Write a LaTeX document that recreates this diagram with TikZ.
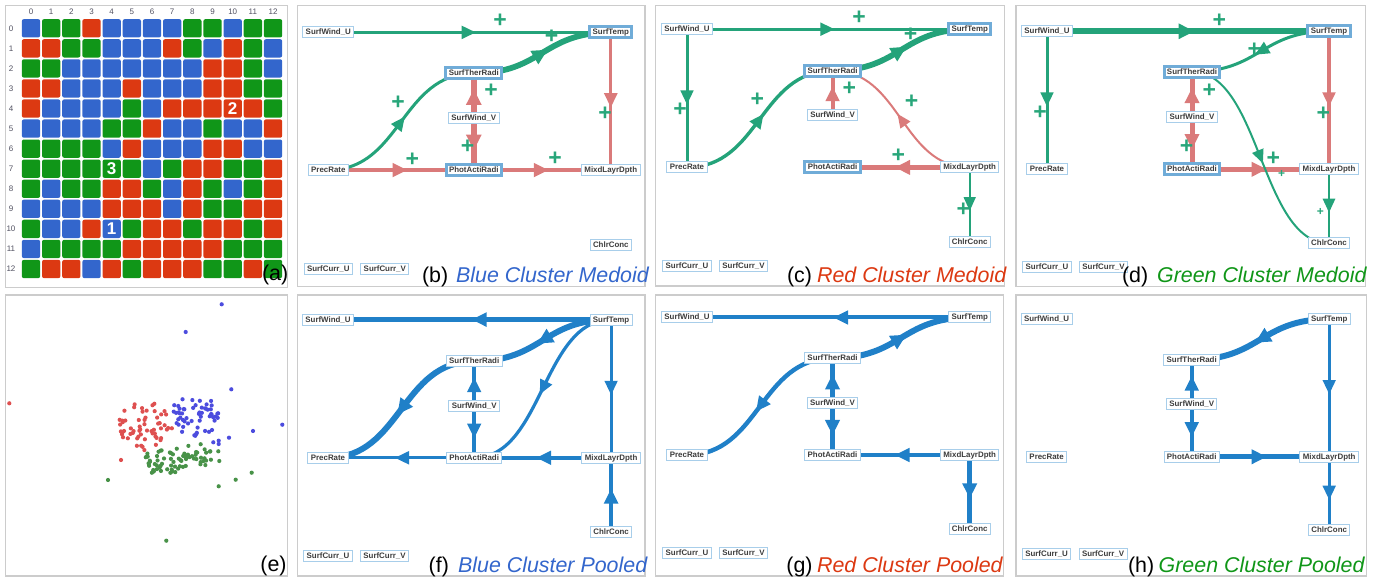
\documentclass[tikz,border=0pt]{standalone}
\usepackage{fontspec}
\setmainfont{Liberation Sans}
\usetikzlibrary{arrows.meta,decorations.markings,calc}

% palette
\definecolor{cB}{HTML}{3366CC}
\definecolor{cG}{HTML}{109618}
\definecolor{cR}{HTML}{DC3912}
\definecolor{egreen}{RGB}{36,163,122}
\definecolor{ered}{RGB}{218,122,122}
\definecolor{eblue}{RGB}{32,128,200}
\definecolor{pgreen}{RGB}{40,166,122}
\definecolor{nodeline}{RGB}{168,206,234}
\definecolor{nodehl}{RGB}{112,172,216}
\definecolor{nodetext}{RGB}{60,60,60}
\definecolor{framegray}{RGB}{204,204,204}
\definecolor{sred}{RGB}{222,80,80}
\definecolor{sblue}{RGB}{76,76,222}
\definecolor{sgreen}{RGB}{72,146,72}
\definecolor{lblgray}{RGB}{80,80,96}

\pgfdeclarelayer{edges}
\pgfsetlayers{edges,main}

\tikzset{
  vbox/.style={draw=nodeline, line width=0.5pt, fill=white, text=nodetext,
    font=\fontsize{3.95pt}{4.5pt}\selectfont\bfseries, inner xsep=1.45pt, inner ysep=0pt,
    minimum height=5.5pt, text height=2.85pt, text depth=0.4pt},
  hinode/.style={draw=nodehl, line width=1.5pt},
  keynode/.style={vbox},
  gedge/.style={draw=egreen},
  redge/.style={draw=ered},
  bedge/.style={draw=eblue},
  midarr/.style={postaction={decorate},decoration={markings,
      mark=at position #1 with {\pgftransformxshift{3.2pt}\arrow{Triangle[length=6.4pt 0.5,width=5.2pt 0.7]}}}},
  midarr/.default=0.5,
  sgn/.style={text=pgreen, font=\fontsize{11.5pt}{11.5pt}\selectfont\bfseries, inner sep=0pt},
  smallsgn/.style={sgn, font=\fontsize{6pt}{6pt}\selectfont\bfseries},
  panelframe/.style={draw=framegray, line width=0.65pt},
  subtag/.style={anchor=base west, inner sep=0pt, font=\fontsize{10.7pt}{12pt}\selectfont},
  ttl/.style={subtag, font=\fontsize{10.7pt}{12pt}\selectfont\itshape},
  gridlbl/.style={inner sep=0pt, text=lblgray, font=\fontsize{4pt}{4pt}\selectfont},
  cellnum/.style={inner sep=0pt, text=white, font=\fontsize{8.5pt}{8.5pt}\selectfont\bfseries},
}

% the ten variables of one network; #1 prefix, #2-#4 column x, #5-#9 row y
\newcommand\netnodes[9]{%
  \node[keynode] (#1ST)  at (#4,#5) {SurfTemp};
  \node[vbox]    (#1SWU) at (#2,#5) {SurfWind\_U};
  \node[keynode] (#1STR) at (#3,#6) {SurfTherRadi};
  \node[vbox]    (#1SWV) at (#3,#7) {SurfWind\_V};
  \node[vbox]    (#1PR)  at (#2,#8) {PrecRate};
  \node[keynode] (#1PAR) at (#3,#8) {PhotActiRadi};
  \node[vbox]    (#1MLD) at (#4,#8) {MixdLayrDpth};
  \node[vbox]    (#1CC)  at (#4,#9) {ChlrConc};
  \node[vbox]    (#1SCU) at (#2,#9+24) {SurfCurr\_U};
  \node[vbox]    (#1SCV) at (#2+56.5,#9+24) {SurfCurr\_V};
}

% S-shaped link with horizontal tangents at both ends
\newcommand\scurve[3][]{%
  \path ($(#2.center)!0.5!(#3.center)$) coordinate (scm);
  \draw[#1] (#2.center) .. controls (scm |- #2.center) and (scm |- #3.center) .. (#3.center);
}

\begin{document}
\begin{tikzpicture}[x=0.5pt,y=-0.5pt]
\useasboundingbox (0,0) rectangle (1383,581);

% ---------------- (a) cluster map ----------------
\draw[panelframe] (5.7,5.7) rectangle (287.3,287.3);
\foreach \j in {0,...,12}{
  \node[gridlbl] (cl\j) at ({31+20.17*\j},11.7) {\j};
}
\foreach \row [count=\i from 0] in {
  {B,G,G,R,B,B,B,B,G,G,B,G,G},
  {R,R,G,G,B,B,B,R,G,B,R,G,B},
  {G,G,B,B,B,B,B,B,B,R,R,G,B},
  {R,R,B,B,B,R,B,B,B,R,R,G,G},
  {R,B,B,B,B,G,B,R,R,R,R,R,G},
  {B,B,B,B,G,G,R,B,B,G,B,B,R},
  {G,G,G,G,B,R,B,B,B,R,R,B,B},
  {G,G,G,G,G,G,B,G,R,R,G,G,R},
  {G,B,G,G,R,R,G,B,R,G,B,G,R},
  {B,B,B,B,R,R,R,B,R,G,G,R,R},
  {G,B,B,R,B,G,R,R,G,R,R,G,R},
  {B,G,G,G,G,R,R,R,R,R,G,G,G},
  {G,R,R,B,R,G,R,R,R,G,G,R,G}}{
  \node[gridlbl] (rl\i) at (11,{28.3+20.06*\i}) {\i};
  \foreach \c [count=\j from 0] in \row {
    \fill[fill=c\c, rounded corners=1pt] ({21.85+20.17*\j},{19.15+20.06*\i}) rectangle +(18.3,18.3);
  }
}
\node[cellnum] (n1) at (111.7,228.9) {1};
\node[cellnum] (n2) at (232.7,108.5) {2};
\node[cellnum] (n3) at (111.7,168.7) {3};
\node[subtag] (ta) at (261.7,280.5) {(a)};

% ---------------- (e) projection of the cells ----------------
\draw[panelframe] (5.7,295) rectangle (287.3,576);
\pgfmathsetseed{31}
\foreach \k in {1,...,60}{
  \pgfmathsetmacro\ang{360*rnd}
  \pgfmathsetmacro\rad{sqrt(rnd)}
  \fill[sred] ({146+28*\rad*cos(\ang)},{425+26*\rad*sin(\ang)}) circle[radius=1.05pt];
}
\foreach \k in {1,...,56}{
  \pgfmathsetmacro\ang{360*rnd}
  \pgfmathsetmacro\rad{sqrt(rnd)}
  \fill[sblue] ({195+25*\rad*cos(\ang)},{416+20*\rad*sin(\ang)}) circle[radius=1.05pt];
}
\foreach \k in {1,...,48}{
  \pgfmathsetmacro\ang{360*rnd}
  \pgfmathsetmacro\rad{sqrt(rnd)}
  \fill[sgreen] ({165+22*\rad*cos(\ang)},{461+15*\rad*sin(\ang)}) circle[radius=1.05pt];
}
\foreach \k in {1,...,26}{
  \pgfmathsetmacro\ang{360*rnd}
  \pgfmathsetmacro\rad{sqrt(rnd)}
  \fill[sgreen] ({197+15*\rad*cos(\ang)},{456+13*\rad*sin(\ang)}) circle[radius=1.05pt];
}
\foreach \px/\py in {221.7/304.3,185.7/332,231.3/389.3,282.3/424.7,253/431,229/437.7,218.7/440.7,218.7/444,213.3/442.3}
  \fill[sblue] (\px,\py) circle[radius=1.05pt];
\foreach \px/\py in {9.3/403.3,121/460}
  \fill[sred] (\px,\py) circle[radius=1.05pt];
\foreach \px/\py in {108/480,166.3/540.7,218.7/486.3,235.7/479.7,251.7/472.7,219.3/461,218.3/451.3,210.3/451.3}
  \fill[sgreen] (\px,\py) circle[radius=1.05pt];
\node[subtag] (te) at (260,571.4) {(e)};

% ---------------- (b) blue medoid ----------------
\begin{scope}[keynode/.style={vbox,hinode}]
\draw[panelframe] (297.3,5.7) rectangle (645,286.7);
\netnodes{b}{328.3}{473.8}{610.8}{32.4}{73.3}{117.8}{170.1}{244.8}
\begin{pgfonlayer}{edges}
\draw[redge,line width=2pt,midarr] (bPR.center) -- (bPAR.center);
\draw[redge,line width=2pt,midarr] (bPAR.center) -- (bMLD.center);
\draw[redge,line width=1.6pt,midarr] (bST.center) -- (bMLD.center);
\draw[redge,line width=3pt,midarr] (bSWV.center) -- (bSTR.center);
\draw[redge,line width=3pt,midarr] (bSWV.center) -- (bPAR.center);
\draw[gedge,line width=1.6pt,midarr] (bSWU.center) -- (bST.center);
\scurve[gedge,line width=1.5pt,midarr]{bPR}{bSTR}
\scurve[gedge,line width=2.9pt,midarr]{bSTR}{bST}
\end{pgfonlayer}
\foreach \px/\py [count=\n] in {500/21,551.7/36.7,398/102.7,491/90.7,467.7/146.7,412.3/159.3,555/159,605/114}
  \node[sgn] (bs\n) at (\px,\py) {+};
\node[subtag] (bt1) at (421.7,282.5) {(b)};
\node[ttl,text=cB] (bt2) at (455.7,282.5) {Blue Cluster Medoid};
\end{scope}

% ---------------- (c) red medoid ----------------
\begin{scope}[keynode/.style={vbox,hinode}]
\draw[panelframe] (655.7,5.7) rectangle (1004.3,286);
\netnodes{c}{687}{832.6}{969.7}{29.2}{70.7}{114.8}{167.4}{241.7}
\begin{pgfonlayer}{edges}
\draw[redge,line width=2pt,midarr] (cSWV.center) -- (cSTR.center);
\draw[redge,line width=2.5pt,midarr] (cMLD.center) -- (cPAR.center);
\scurve[redge,line width=1pt,midarr]{cMLD}{cSTR}
\draw[gedge,line width=1.5pt,midarr] (cSWU.center) -- (cST.center);
\draw[gedge,line width=1.5pt,midarr] (cSWU.center) -- (cPR.center);
\draw[gedge,line width=1pt,midarr] (cMLD.center) -- (cCC.center);
\scurve[gedge,line width=1.7pt,midarr]{cPR}{cSTR}
\scurve[gedge,line width=2.9pt,midarr]{cSTR}{cST}
\end{pgfonlayer}
\foreach \px/\py [count=\n] in {859/17.3,910.7/34.3,757.3/100,680/110,849.3/88.3,898.3/155.7,911.7/101.7,963.3/210}
  \node[sgn] (cs\n) at (\px,\py) {+};
\node[subtag] (ct1) at (786.7,282.5) {(c)};
\node[ttl,text=cR] (ct2) at (816.7,282.5) {Red Cluster Medoid};
\end{scope}

% ---------------- (d) green medoid ----------------
\begin{scope}[keynode/.style={vbox,hinode}]
\draw[panelframe] (1016,5.7) rectangle (1365.7,286.7);
\netnodes{d}{1047}{1192}{1329}{31.3}{71.7}{116.7}{169.3}{243.3}
\begin{pgfonlayer}{edges}
\draw[redge,line width=2.5pt,midarr] (dSWV.center) -- (dSTR.center);
\draw[redge,line width=2.5pt,midarr] (dSWV.center) -- (dPAR.center);
\draw[redge,line width=2.5pt,midarr] (dPAR.center) -- (dMLD.center);
\draw[redge,line width=1.6pt,midarr] (dST.center) -- (dMLD.center);
\draw[gedge,line width=3pt,midarr] (dSWU.center) -- (dST.center);
\draw[gedge,line width=1.5pt,midarr] (dSWU.center) -- (dPR.center);
\draw[gedge,line width=1.25pt,midarr] (dMLD.center) -- (dCC.center);
\scurve[gedge,line width=1.5pt,midarr]{dST}{dSTR}
\scurve[gedge,line width=1pt,midarr]{dSTR}{dCC}
\end{pgfonlayer}
\foreach \px/\py [count=\n] in {1219.3/20.7,1254.3/49.3,1040/112.7,1209.3/90.7,1186.7/146.7,1273.3/158.3,1323.3/113.3}
  \node[sgn] (ds\n) at (\px,\py) {+};
\node[smallsgn] (ds8) at (1281.7,174) {+};
\node[smallsgn] (ds9) at (1320.3,212.3) {+};
\node[subtag] (dt1) at (1121.7,282.5) {(d)};
\node[ttl,text=cG] (dt2) at (1156.7,282.5) {Green Cluster Medoid};
\end{scope}

% ---------------- (f) blue pooled ----------------
\draw[panelframe] (297.3,295) rectangle (645,576);
\netnodes{f}{328}{474.2}{611.1}{319.6}{361.2}{406.2}{457.8}{532.2}
\begin{pgfonlayer}{edges}
\draw[bedge,line width=2.3pt,midarr=0.47] (fST.center) -- (fSWU.center);
\draw[bedge,line width=2pt,midarr] (fSWV.center) -- (fSTR.center);
\draw[bedge,line width=2pt,midarr] (fSWV.center) -- (fPAR.center);
\draw[bedge,line width=1.6pt,midarr] (fPAR.center) -- (fPR.center);
\draw[bedge,line width=2.1pt,midarr] (fMLD.center) -- (fPAR.center);
\draw[bedge,line width=1.5pt,midarr] (fST.center) -- (fMLD.center);
\draw[bedge,line width=2.3pt,midarr] (fCC.center) -- (fMLD.center);
\scurve[bedge,line width=1.6pt,midarr]{fST}{fPAR}
\scurve[bedge,line width=3pt,midarr]{fST}{fSTR}
\scurve[bedge,line width=3pt,midarr]{fSTR}{fPR}
\end{pgfonlayer}
\node[subtag] (ft1) at (428.3,572.5) {(f)};
\node[ttl,text=cB] (ft2) at (457.7,572.5) {Blue Cluster Pooled};

% ---------------- (g) red pooled ----------------
\draw[panelframe] (655.7,295) rectangle (1003.7,576);
\netnodes{g}{687}{832.5}{969.7}{317.5}{358.2}{402.8}{455}{529.5}
\begin{pgfonlayer}{edges}
\draw[bedge,line width=2pt,midarr=0.46] (gST.center) -- (gSWU.center);
\draw[bedge,line width=2.5pt,midarr] (gSWV.center) -- (gSTR.center);
\draw[bedge,line width=2.5pt,midarr] (gSWV.center) -- (gPAR.center);
\draw[bedge,line width=2pt,midarr] (gMLD.center) -- (gPAR.center);
\draw[bedge,line width=2.5pt,midarr] (gMLD.center) -- (gCC.center);
\scurve[bedge,line width=3pt,midarr]{gSTR}{gST}
\scurve[bedge,line width=2.2pt,midarr]{gSTR}{gPR}
\end{pgfonlayer}
\node[subtag] (gt1) at (786,572.5) {(g)};
\node[ttl,text=cR] (gt2) at (816.7,572.5) {Red Cluster Pooled};

% ---------------- (h) green pooled ----------------
\draw[panelframe] (1016,295) rectangle (1366.3,576);
\netnodes{h}{1046.6}{1191.7}{1329.2}{319.1}{359.8}{404.5}{456.8}{530.5}
\begin{pgfonlayer}{edges}
\draw[bedge,line width=2pt,midarr] (hSWV.center) -- (hSTR.center);
\draw[bedge,line width=2pt,midarr] (hSWV.center) -- (hPAR.center);
\draw[bedge,line width=2.5pt,midarr] (hPAR.center) -- (hMLD.center);
\draw[bedge,line width=1.5pt,midarr] (hST.center) -- (hMLD.center);
\draw[bedge,line width=1.5pt,midarr] (hMLD.center) -- (hCC.center);
\scurve[bedge,line width=3pt,midarr]{hST}{hSTR}
\end{pgfonlayer}
\node[subtag] (ht1) at (1127.7,572.5) {(h)};
\node[ttl,text=cG] (ht2) at (1158.3,572.5) {Green Cluster Pooled};

\end{tikzpicture}
\end{document}
